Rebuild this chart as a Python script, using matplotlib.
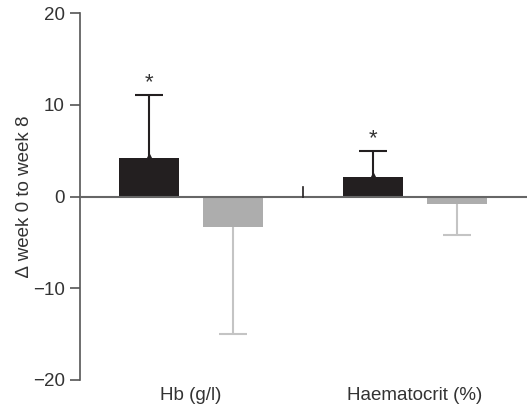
import numpy as np
import matplotlib
matplotlib.use('Agg')
import matplotlib.pyplot as plt

plt.rcParams['font.family'] = ['Liberation Sans', 'DejaVu Sans']

groups = ['Hb (g/l)', 'Haematocrit (%)']
black_vals = [4.2, 2.1]
black_err = [6.9, 2.9]
grey_vals = [-3.3, -0.8]
grey_err = [11.7, 3.4]
yticks = [-20, -10, 0, 10, 20]

fig = plt.figure(figsize=(5.27, 4.08), dpi=100)
ax = fig.add_axes([80/527, 1 - 380/408, 1 - 80/527, (380 - 13)/408])

x = np.arange(len(groups))
off = 0.1875
w = 0.268
cap = 0.0625
black = '#231f20'
grey = '#adadad'
grey_line = '#c4c4c4'

ax.bar(x - off, black_vals, w, color=black, zorder=2)
ax.bar(x + off, grey_vals, w, color=grey, zorder=2)

# one-sided error bars, cap only at the far end
bx = x - off
btop = np.array(black_vals) + np.array(black_err)
ax.vlines(bx, black_vals, btop, color=black, lw=1.5, zorder=3)
ax.hlines(btop, bx - cap, bx + cap, color=black, lw=1.5, zorder=3)
ax.plot(bx, np.array(black_vals) + 0.15, '^', color=black, ms=4, zorder=3)

gx = x + off
gbot = np.array(grey_vals) - np.array(grey_err)
ax.vlines(gx, grey_vals, gbot, color=grey_line, lw=1.5, zorder=1)
ax.hlines(gbot, gx - cap, gx + cap, color=grey_line, lw=1.5, zorder=1)

# asterisks above black bars
for xi, t in zip(bx, btop):
    ax.text(xi, t + 0.2, '*', ha='center', va='bottom', fontsize=16, color='#333333')

ax.axhline(0, color='#666666', lw=1.5, zorder=4)
ax.plot([0.5, 0.5], [0, 1.0], color=black, lw=1.2, zorder=4)

ax.set_xlim(-0.496, 1.5)
ax.set_ylim(-20, 20)
ax.set_yticks(yticks)
ax.set_yticklabels(['\u221220', '\u221210', '0', '10', '20'])
ax.set_xticks(x)
ax.set_xticklabels(groups)
ax.tick_params(axis='x', length=0, pad=5, labelsize=13.5, labelcolor='#333333')
ax.tick_params(axis='y', length=7, width=1.2, color='#555555', labelsize=13.5,
               labelcolor='#333333', pad=4)
for s in ['top', 'right', 'bottom']:
    ax.spines[s].set_visible(False)
ax.spines['left'].set_color('#555555')
ax.spines['left'].set_linewidth(1.2)
ax.set_ylabel('\u2206 week 0 to week 8', fontsize=13.5, color='#333333', labelpad=0)

fig.savefig('out.png', dpi=100)
